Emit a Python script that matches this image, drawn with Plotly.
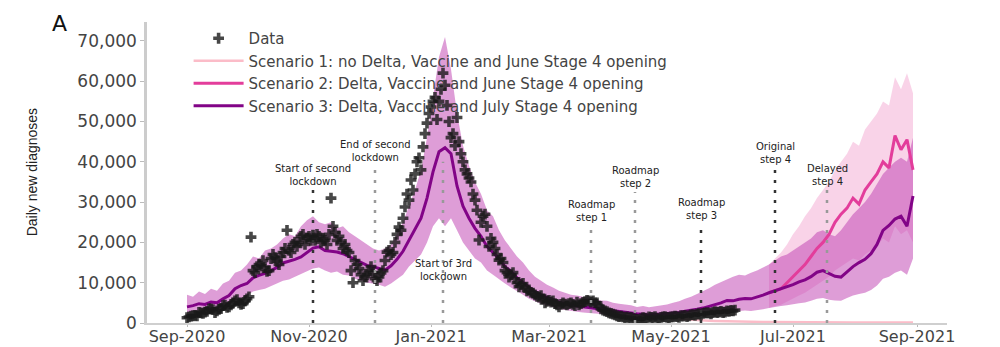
import pandas as pd
import plotly.graph_objects as go

# ---------------- data (values in thousands) ----------------
# Observed daily diagnoses, one value per day starting 2020-09-01
data_start = "2020-09-01"
data_k = [
    1.3, 1.5, 1.7, 1.8, 1.9, 1.8, 2.6,
    2.5, 2.4, 2.7, 2.9, 3.5, 3.5, 3.3,
    2.6, 3.0, 3.4, 3.6, 4.3, 4.4, 3.9,
    4.0, 4.5, 5.0, 5.5, 5.8, 5.0, 4.6,
    4.8, 5.5, 6.0, 6.5, 21.3, 13.0, 12.5,
    14.0, 14.5, 14.2, 15.5, 13.8, 12.8, 13.0,
    16.0, 17.0, 16.2, 15.3, 14.5, 16.5, 17.5,
    18.5, 23.0, 18.0, 17.5, 19.5, 20.0, 19.0,
    20.0, 21.5, 22.0, 19.5, 21.0, 21.5, 20.5,
    21.8, 20.5, 22.0, 21.5, 20.0, 21.0, 20.5,
    19.5, 22.0, 31.0, 24.0, 22.5, 20.5, 21.5,
    20.0, 18.5, 19.5, 18.0, 17.5, 13.0, 10.0,
    15.5, 14.5, 13.5, 12.0, 10.5, 11.5, 12.0,
    13.0, 14.0, 12.5, 11.0, 10.5, 11.4, 12.4,
    13.0, 15.5, 17.6, 18.0, 17.0, 17.5, 20.0,
    22.0, 23.8, 23.0, 26.0, 28.8, 32.0, 30.5,
    35.5, 33.0, 37.0, 40.0, 41.0, 38.0, 43.7,
    47.0, 49.6, 52.0, 53.6, 55.0, 56.0, 50.5,
    55.0, 58.0, 62.0, 59.0, 54.0, 50.0, 46.0,
    47.0, 44.0, 51.0, 45.0, 42.0, 40.0, 38.0,
    37.0, 36.0, 35.0, 32.0, 30.5, 28.0, 20.6,
    25.0, 26.5, 27.0, 24.0, 19.0, 21.0, 20.0,
    18.5, 17.0, 15.6, 16.0, 15.0, 13.0, 12.5,
    11.4, 12.0, 12.5, 11.0, 10.0, 9.0, 9.5,
    9.8, 8.8, 8.0, 8.2, 7.6, 7.4, 7.0,
    6.6, 6.4, 6.8, 6.0, 5.0, 5.4, 5.6,
    5.2, 5.5, 4.8, 4.5, 4.0, 4.6, 5.0,
    4.7, 4.5, 4.8, 5.0, 4.6, 4.3, 5.2,
    4.5, 4.8, 5.1, 5.3, 5.6, 5.5, 5.2,
    5.5, 5.0, 5.0, 4.2, 3.5, 3.2, 3.0,
    2.8, 2.5, 2.4, 2.2, 2.0, 1.8, 1.6,
    1.7, 1.5, 1.3, 1.5, 1.2, 1.4, 1.1,
    1.0, 0.9, 0.8, 1.1, 1.3, 1.2, 1.0,
    1.5, 1.4, 1.3, 1.6, 1.2, 1.0, 1.4,
    1.5, 1.6, 1.4, 1.3, 1.5, 1.5, 1.7,
    1.6, 1.4, 1.8, 1.7, 1.9, 1.6, 1.8,
    2.0, 2.1, 1.9, 2.2, 2.3, 2.0, 2.4,
    2.5, 2.5, 2.5, 2.3, 2.6, 2.8, 2.6,
    2.7, 2.9, 2.6, 2.7, 3.0, 2.9, 3.1,
    3.0, 3.2,
]

# Model scenarios, one value every 3 days
step_days = 3
scen3_start = "2020-09-01"
scen3_k = [
    4.0, 4.3, 4.8, 4.6, 5.2, 5.0, 6.0, 6.8, 8.5, 9.3,
    9.8, 11.2, 11.8, 12.3, 13.0, 13.8, 14.9, 15.3, 15.8, 16.4,
    17.5, 18.6, 18.9, 18.0, 17.8, 17.6, 17.2, 16.5, 15.6, 15.0,
    14.3, 14.0, 13.6, 13.1, 14.2, 15.8, 17.8, 20.5, 23.0, 26.0,
    31.0, 37.5, 42.5, 43.5, 42.0, 34.0, 29.0, 26.0, 23.5, 21.5,
    19.0, 17.5, 16.0, 14.0, 12.8, 11.2, 10.0, 8.8, 7.8, 7.0,
    6.4, 5.8, 5.2, 4.8, 4.4, 4.2, 4.0, 3.8, 3.7, 3.4,
    3.3, 3.0, 2.8, 2.7, 2.5, 2.3, 2.2, 2.0, 2.1, 2.2,
    2.3, 2.5, 2.6, 2.9, 3.1, 3.4, 3.7, 4.1, 4.6, 5.0,
    5.6, 5.5, 5.9, 6.1, 6.0, 6.4, 6.9, 7.5, 8.0, 8.6,
    9.0, 9.5, 10.2, 10.7, 11.5, 12.6, 13.0, 12.2, 11.6, 11.4,
    12.8, 14.0, 15.0, 15.8, 17.2, 19.5, 23.0, 24.2, 25.8, 26.5,
    24.0, 31.5,
]
scen3_lo_k = [
    2.5, 2.8, 3.0, 3.1, 3.4, 3.3, 3.9, 4.5, 5.5, 6.0,
    6.8, 7.8, 8.2, 8.5, 9.0, 9.8, 10.5, 10.8, 11.5, 12.0,
    12.8, 13.5, 13.8, 13.0, 12.5, 12.8, 12.0, 11.8, 11.0, 10.5,
    10.0, 9.8, 9.5, 9.0, 9.8, 10.8, 12.0, 14.0, 15.5, 17.0,
    20.0, 24.0, 26.0, 24.0, 26.0, 23.0, 20.0, 18.0, 16.0, 15.0,
    13.0, 12.0, 11.0, 9.8, 8.8, 7.8, 7.0, 6.0, 5.4, 4.8,
    4.4, 4.0, 3.5, 3.2, 3.0, 2.8, 2.6, 2.5, 2.4, 2.2,
    2.1, 1.9, 1.8, 1.7, 1.6, 1.4, 1.3, 1.2, 1.2, 1.3,
    1.3, 1.4, 1.5, 1.6, 1.7, 1.8, 2.0, 2.2, 2.4, 2.6,
    2.8, 2.8, 3.0, 3.1, 3.0, 3.2, 3.4, 3.7, 4.0, 4.2,
    4.4, 4.6, 4.9, 5.1, 5.5, 6.0, 6.2, 5.8, 5.6, 5.5,
    6.2, 6.8, 7.2, 7.5, 8.2, 9.3, 11.0, 11.5, 12.5, 13.0,
    12.0, 16.0,
]
scen3_hi_k = [
    7.0, 6.5, 7.8, 7.2, 8.5, 8.0, 9.8, 10.5, 12.5, 13.0,
    14.5, 16.5, 16.0, 18.0, 18.5, 19.5, 21.0, 22.0, 21.5, 24.0,
    25.5, 26.5, 25.0, 24.5, 25.0, 23.5, 24.0, 22.5, 21.5, 20.5,
    19.5, 18.5, 18.0, 18.5, 19.5, 22.0, 25.0, 29.0, 33.0, 38.0,
    46.0, 56.0, 66.0, 71.0, 63.0, 52.0, 44.0, 39.0, 35.0, 32.0,
    28.0, 26.5, 23.0, 20.5, 18.5, 16.5, 15.0, 13.0, 11.5, 10.5,
    9.5, 8.8, 8.0, 7.5, 7.0, 6.8, 6.5, 6.2, 6.0, 5.6,
    5.5, 5.0, 4.8, 4.6, 4.4, 4.0, 4.2, 3.9, 4.1, 4.4,
    4.6, 5.0, 5.4, 6.0, 6.5, 7.2, 7.8, 8.6, 9.5, 10.2,
    11.0, 11.5, 12.0, 11.8, 12.5, 13.0, 13.8, 14.5, 15.5, 16.5,
    17.0, 18.0, 19.0, 20.0, 21.0, 22.5, 23.0, 22.0, 21.5, 23.0,
    25.0, 27.0, 28.5, 30.0, 32.0, 34.5, 37.0, 38.5, 40.0, 41.0,
    40.0, 46.0,
]

scen2_start = "2021-06-19"
scen2_k = [
    7.5, 8.0, 8.5, 10.0, 11.5, 13.0, 14.5, 16.5, 18.5, 20.0,
    22.0, 25.0, 27.0, 28.5, 31.0, 29.5, 33.0, 35.0, 37.0, 40.0,
    38.5, 46.5, 43.0, 45.5, 38.0,
]
scen2_lo_k = [
    3.7, 4.2, 4.5, 5.2, 6.0, 6.8, 7.5, 8.5, 9.5, 10.5,
    11.5, 13.0, 14.0, 15.0, 16.0, 15.5, 17.0, 18.0, 19.0, 21.0,
    20.0, 24.0, 22.0, 23.0, 20.0,
]
scen2_hi_k = [
    14.5, 16.0, 17.5, 19.5, 22.0, 24.0, 26.5, 28.5, 31.0, 33.0,
    35.0, 38.0, 40.0, 42.0, 45.0, 44.0, 48.0, 50.0, 52.0, 55.0,
    54.0, 61.0, 58.0, 62.0, 57.0,
]

scen1_start = "2021-04-08"
scen1_k = [
    2.5, 2.1, 1.8, 1.6, 1.5, 1.3, 1.2, 1.1, 1.0, 0.9,
    0.8, 0.7, 0.65, 0.6, 0.55, 0.5, 0.45, 0.4, 0.38, 0.35,
    0.32, 0.3, 0.28, 0.26, 0.25, 0.23, 0.22, 0.21, 0.2, 0.2,
    0.19, 0.18, 0.18, 0.17, 0.17, 0.16, 0.16, 0.15, 0.15, 0.15,
    0.14, 0.14, 0.14, 0.13, 0.13, 0.13, 0.12, 0.12, 0.12,
]

# Policy events
event_dates = ["2020-11-03", "2020-12-04", "2021-01-07", "2021-03-22",
               "2021-04-13", "2021-05-16", "2021-06-22", "2021-07-18"]
event_labels = ["Start of second<br>lockdown", "End of second<br>lockdown",
                "Start of 3rd<br>lockdown", "Roadmap<br>step 1",
                "Roadmap<br>step 2", "Roadmap<br>step 3",
                "Original<br>step 4", "Delayed<br>step 4"]
event_line_top_k = [33.0, 39.0, 40.0, 24.0, 32.5, 24.5, 38.5, 33.0]

y_ticks = [0, 10000, 20000, 30000, 40000, 50000, 60000, 70000]

# ---------------- helpers ----------------
def dates(start, n, step=1):
    return pd.date_range(start, periods=n, freq=f"{step}D")

def k(vals):
    return [v * 1000 for v in vals]

x_data = dates(data_start, len(data_k))
x_s3 = dates(scen3_start, len(scen3_k), step_days)
x_s2 = dates(scen2_start, len(scen2_k), step_days)
x_s1 = dates(scen1_start, len(scen1_k), step_days)

C1 = "#fbbcc8"
C2 = "#e33d9b"
C3 = "#820487"
BAND3 = "rgba(190,60,175,0.50)"
BAND2 = "rgba(235,110,180,0.30)"

fig = go.Figure()

# bands
fig.add_trace(go.Scatter(x=list(x_s2) + list(x_s2[::-1]),
                         y=k(scen2_hi_k) + k(scen2_lo_k[::-1]),
                         fill="toself", fillcolor=BAND2, line=dict(width=0),
                         mode="lines", showlegend=False, hoverinfo="skip"))
fig.add_trace(go.Scatter(x=list(x_s3) + list(x_s3[::-1]),
                         y=k(scen3_hi_k) + k(scen3_lo_k[::-1]),
                         fill="toself", fillcolor=BAND3, line=dict(width=0),
                         mode="lines", showlegend=False, hoverinfo="skip"))

# scenario lines
fig.add_trace(go.Scatter(x=x_s1, y=k(scen1_k), mode="lines",
                         line=dict(color=C1, width=2.5),
                         name="Scenario 1: no Delta, Vaccine and June Stage 4 opening",
                         legendrank=2))
fig.add_trace(go.Scatter(x=x_s2, y=k(scen2_k), mode="lines",
                         line=dict(color=C2, width=3),
                         name="Scenario 2: Delta, Vaccine and June Stage 4 opening",
                         legendrank=3))
fig.add_trace(go.Scatter(x=x_s3, y=k(scen3_k), mode="lines",
                         line=dict(color=C3, width=3),
                         name="Scenario 3: Delta, Vaccine and July Stage 4 opening",
                         legendrank=4))
# data
fig.add_trace(go.Scatter(x=x_data, y=k(data_k), mode="markers",
                         marker=dict(symbol="cross", size=9,
                                     color="rgba(25,25,25,0.8)", line=dict(width=0)),
                         name="Data", legendrank=1))

# event lines + labels
line_colors = ["#333", "#999", "#999", "#999", "#999", "#333", "#333", "#999"]
for d, lab, top, lc in zip(event_dates, event_labels, event_line_top_k, line_colors):
    fig.add_shape(type="line", xref="x", yref="y", x0=d, x1=d, y0=0, y1=top * 1000,
                  line=dict(color=lc, width=2.5, dash="3px,7px"), layer="above")
    if lab.startswith("Start of 3rd"):
        fig.add_annotation(x=d, y=13200, xref="x", yref="y", text=lab,
                           showarrow=False, yanchor="middle",
                           font=dict(family="DejaVu Sans", size=10, color="#222"))
    else:
        fig.add_annotation(x=d, y=top * 1000, xref="x", yref="y", text=lab,
                           showarrow=False, yanchor="bottom", yshift=1,
                           font=dict(family="DejaVu Sans", size=10, color="#222"))

# panel letter and y title
fig.add_annotation(x=-0.109, y=0.9934, xref="paper", yref="paper", text="A",
                   showarrow=False, xanchor="center", yanchor="middle",
                   font=dict(family="DejaVu Sans", size=22, color="#111"))
fig.add_annotation(x=-0.144, y=0.5, xref="paper", yref="paper",
                   text="Daily new diagnoses", textangle=-90, showarrow=False,
                   xanchor="center", yanchor="middle",
                   font=dict(family="Liberation Sans", size=14, color="#222"))

# page body has an 8px default margin: figure is sized to the visible area
fig.update_layout(
    width=992, height=339,
    margin=dict(l=139, r=53, t=14, b=24, autoexpand=False),
    paper_bgcolor="white", plot_bgcolor="white",
    showlegend=True,
    legend=dict(x=0.052, y=1.0, xanchor="left", yanchor="top",
                bgcolor="rgba(0,0,0,0)", font=dict(family="DejaVu Sans", size=15, color="#444"),
                itemwidth=50, tracegroupgap=0),
    xaxis=dict(type="date", range=["2020-08-12", "2021-09-16"], automargin=False,
               tick0="2020-09-01", dtick="M2", tickformat="%b-%Y",
               showgrid=False, zeroline=False, showline=True,
               linecolor="#cfcfcf", linewidth=1.5, ticks="outside", ticklen=2,
               tickcolor="#bbb", ticklabelstandoff=-4,
               tickfont=dict(family="DejaVu Sans", size=16, color="#444")),
    yaxis=dict(range=[0, 74700], tickvals=y_ticks, tickformat=",d", automargin=False,
               showgrid=False, zeroline=False, showline=True,
               linecolor="#cccccc", linewidth=2.5, ticks="outside", ticklen=4,
               tickcolor="#bbb",
               tickfont=dict(family="DejaVu Sans", size=17, color="#444")),
)

fig.write_html("out.html")
